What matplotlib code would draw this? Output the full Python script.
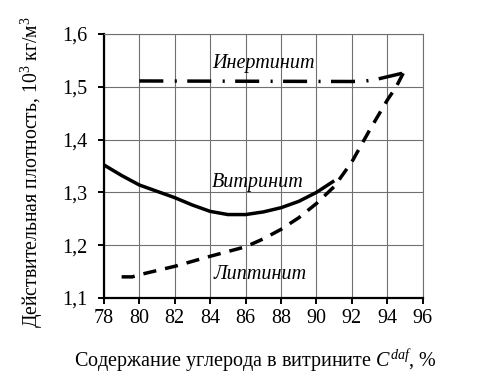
import matplotlib
matplotlib.use('Agg')
import matplotlib.pyplot as plt

plt.rcParams['font.family'] = 'serif'
plt.rcParams['font.serif'] = ['Liberation Serif', 'DejaVu Serif']
plt.rcParams['mathtext.fontset'] = 'custom'
plt.rcParams['mathtext.rm'] = 'Liberation Serif'
plt.rcParams['mathtext.it'] = 'Liberation Serif:italic'
plt.rcParams['lines.scale_dashes'] = False

# data
vit_x = [78, 79, 80, 81, 82, 83, 84, 85, 86, 87, 88, 89, 90, 91]
vit_y = [1.352, 1.332, 1.314, 1.302, 1.290, 1.276, 1.264, 1.258, 1.258, 1.263, 1.271, 1.283, 1.300, 1.322]

lip_x = [79, 79.6, 80, 82, 84, 86, 87, 88, 89, 90, 91, 92, 93, 94, 94.5, 94.9]
lip_y = [1.140, 1.140, 1.144, 1.160, 1.179, 1.197, 1.212, 1.230, 1.252, 1.279, 1.311, 1.358, 1.418, 1.475, 1.500, 1.526]

ine_x = [80, 92, 92.8, 93.5, 94.9]
ine_y = [1.511, 1.510, 1.511, 1.515, 1.526]

labels = ['Инертинит', 'Витринит', 'Липтинит']
label_x = [87.0, 86.7, 86.8]
label_y = [1.545, 1.318, 1.144]

xticks = list(range(78, 97, 2))
yticks = [1.1, 1.2, 1.3, 1.4, 1.5, 1.6]
ytick_labels = ['1,1', '1,2', '1,3', '1,4', '1,5', '1,6']

fig = plt.figure(figsize=(4.81, 3.86), dpi=100)
ax = fig.add_axes([0.216, 0.228, 0.663, 0.684])

ax.plot(vit_x, vit_y, color='black', lw=2.5, solid_capstyle='butt')
l, = ax.plot(lip_x, lip_y, color='black', lw=2.5, dash_capstyle='butt')
l.set_dashes([9.5, 6.5])
l, = ax.plot(ine_x, ine_y, color='black', lw=2.5, dash_capstyle='butt')
l.set_dashes([17.3, 8.2, 1.5, 7.5])

for t, x, y in zip(labels, label_x, label_y):
    ax.text(x, y, t, fontsize=14.5, style='italic', ha='center', va='center')

ax.set_xlim(78, 96)
ax.set_ylim(1.1, 1.6)
ax.set_xticks(xticks)
ax.set_yticks(yticks)
ax.set_yticklabels(ytick_labels)
ax.grid(True, color='#707070', lw=0.8)
ax.set_axisbelow(True)

for s in ['top', 'right']:
    ax.spines[s].set_color('#707070')
    ax.spines[s].set_linewidth(0.8)
for s in ['left', 'bottom']:
    ax.spines[s].set_color('black')
    ax.spines[s].set_linewidth(1.6)

ax.tick_params(direction='out', length=4, width=1.4, labelsize=14.5)
ax.tick_params(axis='x', pad=4)
ax.tick_params(axis='y', pad=8)

ax.set_xlabel('Содержание углерода в витрините $C^{daf}$, %', fontsize=14.5)
ax.set_ylabel('Действительная плотность, 10$^3$ кг/м$^3$', fontsize=14.2, labelpad=12)
ax.xaxis.set_label_coords(0.476, -0.19)
ax.yaxis.label.set_y(0.477)

fig.savefig('out.png', dpi=100)
